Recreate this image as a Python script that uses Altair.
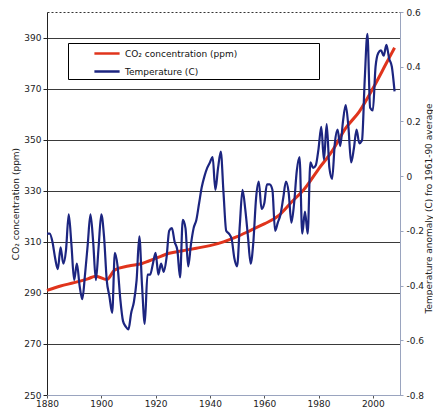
import altair as alt
import pandas as pd

CO2_LABEL = "CO\u2082 concentration (ppm)"
TEMP_LABEL = "Temperature (C)"

# CO2 concentration (left axis, ppm)
co2_years = [1880, 1885, 1890, 1895, 1898, 1902, 1905, 1910, 1915, 1920, 1925, 1930,
             1935, 1940, 1945, 1950, 1955, 1960, 1965, 1970, 1975, 1980, 1985, 1990,
             1995, 2000, 2005, 2008]
co2_ppm = [291.0, 292.7, 294.0, 295.5, 296.5, 295.2, 299.0, 300.5, 301.5, 303.5, 305.5, 306.5,
           307.5, 308.5, 310.0, 312.0, 314.5, 317.0, 320.0, 325.5, 331.0, 338.5, 345.5, 354.5,
           361.0, 370.0, 380.0, 386.0]

# Temperature anomaly (right axis, C from 1961-90 average)
temp_years = list(range(1880, 2009))
temp_anom = [
    -0.21, -0.21, -0.24, -0.30, -0.34, -0.26, -0.32, -0.27, -0.14, -0.25,   # 1880s
    -0.38, -0.32, -0.40, -0.45, -0.36, -0.25, -0.14, -0.24, -0.38, -0.26,   # 1890s
    -0.14, -0.22, -0.38, -0.44, -0.50, -0.28, -0.33, -0.45, -0.53, -0.55,   # 1900s
    -0.56, -0.50, -0.46, -0.38, -0.22, -0.40, -0.54, -0.36, -0.36, -0.32,   # 1910s
    -0.28, -0.36, -0.32, -0.35, -0.30, -0.20, -0.19, -0.24, -0.27, -0.37,   # 1920s
    -0.16, -0.19, -0.33, -0.25, -0.19, -0.16, -0.10, -0.04, 0.00, 0.03,     # 1930s
    0.05, 0.07, -0.05, 0.03, 0.09, -0.06, -0.20, -0.21, -0.23, -0.30,       # 1940s
    -0.33, -0.18, -0.05, -0.12, -0.22, -0.32, -0.24, -0.08, -0.02, -0.12,   # 1950s
    -0.10, -0.03, -0.03, -0.05, -0.20, -0.17, -0.14, -0.08, -0.02, -0.06,   # 1960s
    -0.17, -0.10, 0.02, 0.07, -0.21, -0.13, -0.21, 0.05, 0.03, 0.04,        # 1970s
    0.10, 0.18, 0.06, 0.19, 0.03, -0.01, 0.12, 0.17, 0.11, 0.20,            # 1980s
    0.26, 0.18, 0.05, 0.10, 0.17, 0.12, 0.13, 0.35, 0.52, 0.25,             # 1990s
    0.24, 0.40, 0.45, 0.46, 0.44, 0.48, 0.43, 0.40, 0.31,                   # 2000s
]

x_ticks = [1880, 1900, 1920, 1940, 1960, 1980, 2000]
co2_ticks = [250, 270, 290, 310, 330, 350, 370, 390]
temp_ticks = [-0.8, -0.6, -0.4, -0.2, 0.0, 0.2, 0.4, 0.6]

W, H = 353, 383

co2_df = pd.DataFrame({"year": co2_years, "value": co2_ppm, "series": CO2_LABEL})
temp_df = pd.DataFrame({"year": temp_years, "value": temp_anom, "series": TEMP_LABEL})

color_scale = alt.Scale(domain=[CO2_LABEL, TEMP_LABEL], range=["#e0341c", "#1c2580"])

# trailing blank (non-whitespace blank glyph) widens the legend frame like the original's
pad = "\u2800" * 12
legend = alt.Legend(
    title=None, orient="none", legendX=21, legendY=31,
    fillColor="white", strokeColor="black", padding=2,
    symbolType="M-1.8,0L1.8,0", symbolSize=196, symbolStrokeWidth=2.5,
    symbolOffset=28.5, labelOffset=9.5, rowPadding=4,
    labelFontSize=9, labelColor="#111", labelLimit=400,
    labelExpr="datum.label + '" + pad + "'",
)

x_enc = alt.X(
    "year:Q",
    scale=alt.Scale(domain=[1880, 2010], nice=False, zero=False),
    axis=alt.Axis(values=x_ticks, format="d", title=None, grid=False,
                  domainColor="#9aa4bf", tickColor="#555", tickSize=3,
                  labelPadding=1, labelFontSize=9, labelColor="#222",
                  labelFlush=False, zindex=1),
)

co2_line = alt.Chart(co2_df).mark_line(strokeWidth=3, interpolate="monotone").encode(
    x=x_enc,
    y=alt.Y(
        "value:Q",
        scale=alt.Scale(domain=[250, 400], nice=False, zero=False),
        axis=alt.Axis(orient="left", values=co2_ticks, title=CO2_LABEL,
                      grid=True,
                      gridColor=alt.condition("datum.value == 250", alt.value("transparent"), alt.value("#3a3a3a")),
                      gridWidth=1.2,
                      domainColor="#222", tickColor="#222", tickSize=4,
                      labelPadding=2, labelFontSize=9, labelColor="#222",
                      labelFlush=False,
                      titleFontSize=9, titleFontWeight="normal", titleColor="#222",
                      titleX=-32, titleY=H / 2, titleAngle=270,
                      titleAlign="center", titleBaseline="middle"),
    ),
    color=alt.Color("series:N", scale=color_scale, legend=legend),
)

temp_line = alt.Chart(temp_df).mark_line(strokeWidth=2.2, interpolate="monotone").encode(
    x=x_enc,
    y=alt.Y(
        "value:Q",
        scale=alt.Scale(domain=[-0.8, 0.6], nice=False, zero=False),
        axis=alt.Axis(orient="right", values=temp_ticks, format=".1~f",
                      labelExpr="replace(datum.label, '\u2212', '-')",
                      title="Temperature anomaly (C) fro 1961-90 average",
                      grid=False, labelFlush=False,
                      domainColor="#9aa4bf", tickColor="#9aa4bf", tickSize=3,
                      labelPadding=3, labelFontSize=9, labelColor="#222",
                      titleFontSize=9, titleFontWeight="normal", titleColor="#222",
                      titleX=28, titleY=196, titleAngle=270,
                      titleAlign="center", titleBaseline="middle"),
    ),
    color=alt.Color("series:N", scale=color_scale, legend=legend),
)

chart = alt.layer(co2_line, temp_line).resolve_scale(y="independent").properties(
    width=W, height=H,
    padding={"left": 39, "top": 4, "right": 33, "bottom": 12},
    autosize=alt.AutoSizeParams(type="none"),
    background="white",
).configure(font="DejaVu Sans").configure_view(
    stroke="#333", strokeDash=[2, 2], strokeWidth=1
)

chart.save("out.html", embed_options={"renderer": "svg", "actions": False})
